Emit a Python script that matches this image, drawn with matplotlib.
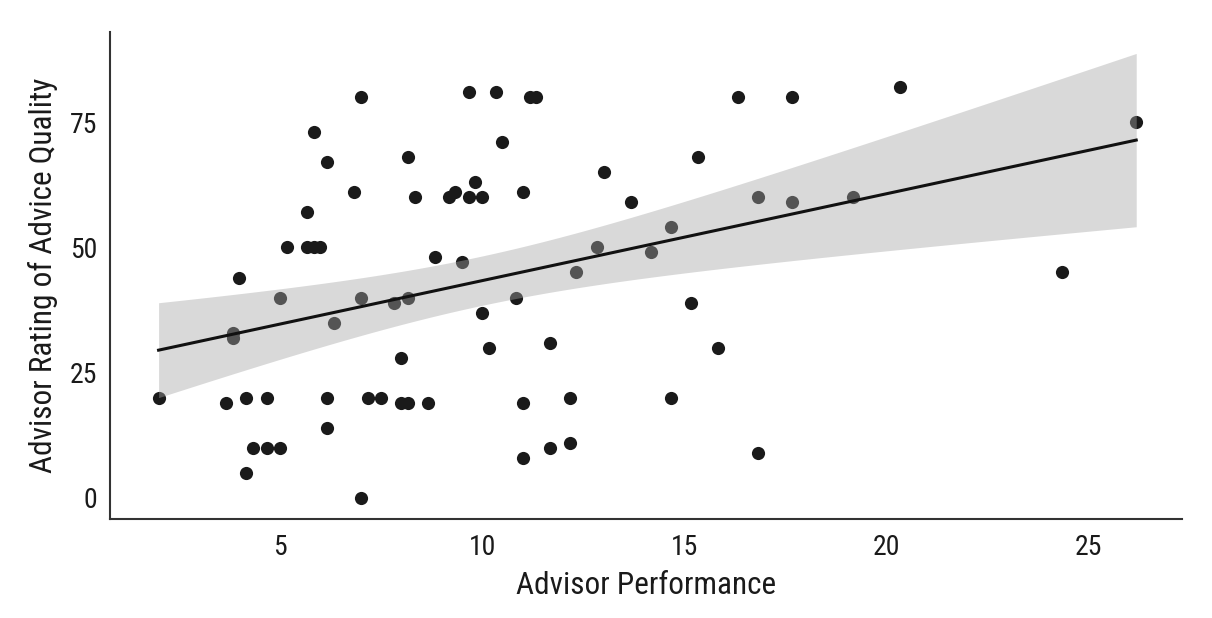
import numpy as np
import matplotlib
matplotlib.use("Agg")
import matplotlib.pyplot as plt

plt.rcParams['font.family'] = ['Liberation Sans Narrow', 'Roboto Condensed', 'DejaVu Sans']
plt.rcParams['font.stretch'] = 'condensed'

# advisor performance (x) and rating of advice quality (y)
perf = [2.0, 3.67, 3.83, 3.83, 4.0, 4.17, 4.17, 4.33, 4.67, 4.67,
        5.0, 5.0, 5.17, 5.67, 5.67, 5.83, 6.0, 5.83, 6.17, 6.17,
        6.17, 6.33, 6.83, 7.0, 7.0, 7.0, 7.17, 7.5, 7.83, 8.0,
        8.0, 8.17, 8.17, 8.17, 8.33, 8.67, 8.83, 9.17, 9.33, 9.5,
        9.67, 9.67, 9.83, 10.0, 10.0, 10.17, 10.33, 10.5, 10.83, 11.0,
        11.0, 11.0, 11.17, 11.33, 11.67, 11.67, 12.17, 12.17, 12.33, 12.83,
        13.0, 13.67, 14.17, 14.67, 14.67, 15.17, 15.33, 15.83, 16.33, 16.83,
        16.83, 17.67, 17.67, 19.17, 20.33, 24.33, 26.17]
rating = [20, 19, 33, 32, 44, 20, 5, 10, 10, 20,
          10, 40, 50, 57, 50, 50, 50, 73, 67, 20,
          14, 35, 61, 80, 40, 0, 20, 20, 39, 28,
          19, 19, 68, 40, 60, 19, 48, 60, 61, 47,
          81, 60, 63, 60, 37, 30, 81, 71, 40, 19,
          8, 61, 80, 80, 31, 10, 20, 11, 45, 50,
          65, 59, 49, 54, 20, 39, 68, 30, 80, 9,
          60, 80, 59, 60, 82, 45, 75]

x = np.array(perf)
y = np.array(rating)

# OLS fit with 95% confidence band
n = len(x)
b1, b0 = np.polyfit(x, y, 1)
grid = np.linspace(x.min(), x.max(), 200)
fit = b0 + b1 * grid
resid = y - (b0 + b1 * x)
s = np.sqrt(np.sum(resid ** 2) / (n - 2))
sxx = np.sum((x - x.mean()) ** 2)
se = s * np.sqrt(1.0 / n + (grid - x.mean()) ** 2 / sxx)
tval = 1.992
lo, hi = fit - tval * se, fit + tval * se

fig = plt.figure(figsize=(12.12, 6.18), dpi=100)
ax = fig.add_axes([0.0908, 0.1602, 0.8844, 0.788])

ax.scatter(x, y, s=90, color='#1a1a1a', linewidths=0, zorder=1)
ax.fill_between(grid, lo, hi, color='#a5a5a5', alpha=0.42, linewidth=0, zorder=2)
ax.plot(grid, fit, color='#111111', linewidth=2.2, zorder=3)

ax.set_xlim(0.8, 27.3)
ax.set_ylim(-4.2, 93)
ax.set_xticks([5, 10, 15, 20, 25])
ax.set_yticks([0, 25, 50, 75])

for side in ['top', 'right']:
    ax.spines[side].set_visible(False)
for side in ['left', 'bottom']:
    ax.spines[side].set_color('#333333')
    ax.spines[side].set_linewidth(1.5)

ax.tick_params(axis='x', length=0, pad=11, labelsize=20, labelcolor='#1a1a1a')
ax.tick_params(axis='y', length=0, pad=9, labelsize=20, labelcolor='#1a1a1a')
ax.set_xlabel('Advisor Performance', fontsize=22.5, color='#1a1a1a', labelpad=7)
ax.set_ylabel('Advisor Rating of Advice Quality', fontsize=22.5, color='#1a1a1a', labelpad=9)

fig.savefig('out.png', dpi=100)
